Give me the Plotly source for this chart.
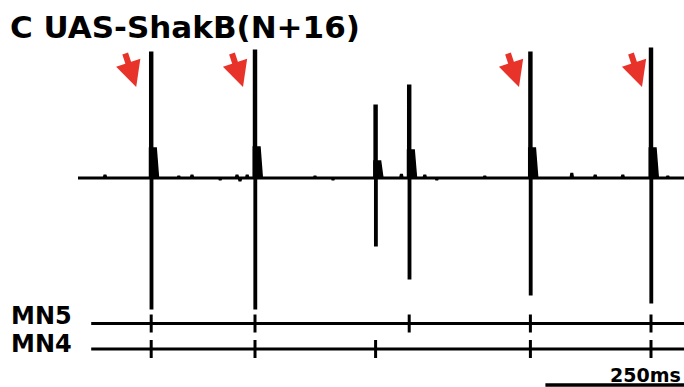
import plotly.graph_objects as go

# Extracellular recording: spike times (ms) and amplitudes (a.u., baseline = 0)
spike_times = [252, 425, 626, 682, 884, 1085]
spike_peaks = [125, 127, 72, 92, 125, 129]
spike_troughs = [-130, -130, -67, -100, -116, -124]
spike_humps = [30, 31, 17, 28, 30, 30]

# Small baseline fluctuations (ms, a.u.)
noise_times = [175, 298, 320, 367, 395, 400, 412, 525, 555, 669, 708, 728, 808, 953, 992, 1038, 1113]
noise_amps = [3, 2, 3, -2, 3, -3, 3, 2, -2, 4, 3, -2, 2, 5, 3, 3, 2]

# Spike assignment to motor neurons
mn5_times = [252, 425, 682, 884, 1085]
mn4_times = [252, 425, 626, 884, 1085]

# Spikes marked with arrows, and arrow lead (ms) before each spike
arrow_spikes = [252, 425, 884, 1085]
arrow_lead = [25, 20, 19, 15]

trace_start, trace_end = 130, 1140
scale_bar_ms = 250
scale_bar_start = 909

X_RANGE = [0, 1140]
Y_RANGE = [-209, 178]
ROW_MN5, ROW_MN4 = -145.5, -171
TICK_HALF = 9
BAR_Y = -207

# --- build the voltage trace
events = [(t, "spike", i) for i, t in enumerate(spike_times)]
events += [(t, "noise", i) for i, t in enumerate(noise_times)]
events.sort()

vx, vy = [trace_start], [0]
for t, kind, i in events:
    if kind == "spike":
        p, q = spike_peaks[i], spike_troughs[i]
        vx += [t - 1.2, t - 1.2, t + 1.2, t + 1.2, t - 0.2, t - 0.2, t + 3]
        vy += [0, p, p, q, q, 0, 0]
    else:
        vx += [t - 1.5, t, t + 1.5]
        vy += [0, noise_amps[i], 0]
vx.append(trace_end)
vy.append(0)

# after-potential humps, filled
hx, hy = [], []
for t, h in zip(spike_times, spike_humps):
    hx += [t - 2.8, t - 2.8, t + 8.3, t + 12.2, None]
    hy += [0, h, h, 0, None]

fig = go.Figure()
fig.add_trace(go.Scatter(x=hx, y=hy, mode="lines", fill="toself",
                         fillcolor="black", line=dict(color="black", width=1.5)))
fig.add_trace(go.Scatter(x=vx, y=vy, mode="lines",
                         line=dict(color="black", width=3)))

# --- raster rows
def ticks(times, row):
    tx, ty = [], []
    for t in times:
        tx += [t, t, None]
        ty += [row - TICK_HALF, row + TICK_HALF, None]
    return tx, ty

for row, times in [(ROW_MN5, mn5_times), (ROW_MN4, mn4_times)]:
    fig.add_trace(go.Scatter(x=[152, X_RANGE[1]], y=[row, row], mode="lines",
                             line=dict(color="black", width=3)))
    tx, ty = ticks(times, row)
    fig.add_trace(go.Scatter(x=tx, y=ty, mode="lines",
                             line=dict(color="black", width=3)))

# --- scale bar
fig.add_trace(go.Scatter(x=[scale_bar_start, scale_bar_start + scale_bar_ms],
                         y=[BAR_Y, BAR_Y], mode="lines",
                         line=dict(color="black", width=3.5)))

FONT = "DejaVu Sans"
annotations = [
    dict(text="C UAS-ShakB(N+16)", xref="paper", yref="paper", x=0.012, y=1 - 27 / 387,
         xanchor="left", yanchor="middle", showarrow=False,
         font=dict(family=FONT, size=31, color="black", weight="bold")),
    dict(text="MN5", xref="paper", yref="y", x=0.013, y=ROW_MN5 + 8,
         xanchor="left", yanchor="middle", showarrow=False,
         font=dict(family=FONT, size=24, color="black", weight="bold")),
    dict(text="MN4", xref="paper", yref="y", x=0.013, y=ROW_MN4 + 5,
         xanchor="left", yanchor="middle", showarrow=False,
         font=dict(family=FONT, size=24, color="black", weight="bold")),
    dict(text="250ms", xref="paper", yref="y", x=0.998, y=BAR_Y + 10.5,
         xanchor="right", yanchor="middle", showarrow=False,
         font=dict(family=FONT, size=19, color="black", weight="bold")),
]
for t, lead in zip(arrow_spikes, arrow_lead):
    annotations.append(dict(text="", x=t - lead, y=91, xref="x", yref="y",
                            ax=-11.5, ay=-35, showarrow=True, arrowhead=2,
                            arrowwidth=6, arrowsize=0.85, arrowcolor="#e8332a",
                            standoff=0))

fig.update_layout(
    width=684, height=387,
    margin=dict(l=0, r=0, t=0, b=0),
    paper_bgcolor="white", plot_bgcolor="white",
    showlegend=False, hovermode=False,
    xaxis=dict(range=X_RANGE, visible=False, fixedrange=True),
    yaxis=dict(range=Y_RANGE, visible=False, fixedrange=True),
    annotations=annotations,
)
fig.write_html("out.html", config=dict(displayModeBar=False))
